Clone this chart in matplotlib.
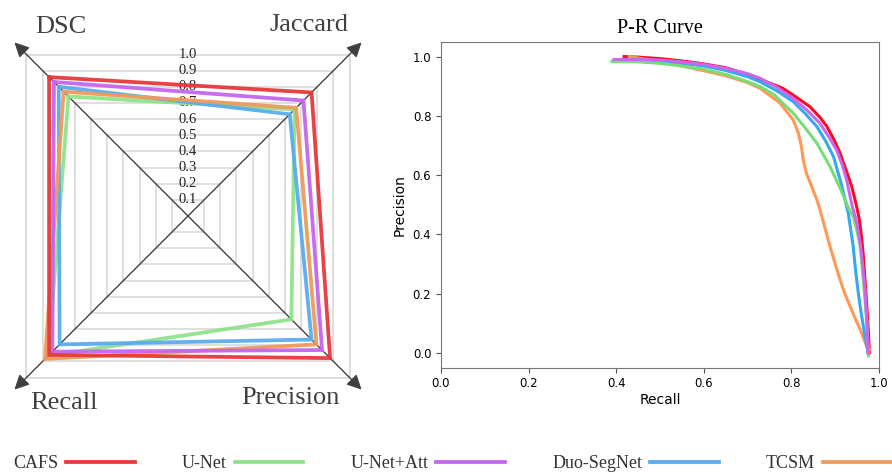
import numpy as np
import matplotlib
matplotlib.use("Agg")
import matplotlib.pyplot as plt
from matplotlib.lines import Line2D

# ---------------- data ----------------
models = ["CAFS", "U-Net", "U-Net+Att", "Duo-SegNet", "TCSM"]
radar_colors = ["#e8383c", "#8ee38a", "#c466ee", "#5aacee", "#f09a5c"]
pr_colors = ["#ff0a24", "#77dd77", "#cc66ee", "#33aaee", "#ff9955"]

metrics = ["DSC", "Jaccard", "Precision", "Recall"]
# values per model in order DSC, Jaccard, Precision, Recall
cafs_vals = [0.86, 0.765, 0.88, 0.86]
unet_vals = [0.74, 0.66, 0.64, 0.865]
unetatt_vals = [0.83, 0.715, 0.83, 0.84]
duo_vals = [0.80, 0.63, 0.765, 0.795]
tcsm_vals = [0.77, 0.67, 0.795, 0.885]
radar_values = [cafs_vals, unet_vals, unetatt_vals, duo_vals, tcsm_vals]
radar_levels = [0.1, 0.2, 0.3, 0.4, 0.5, 0.6, 0.7, 0.8, 0.9, 1.0]

# P-R curves (recall, precision)
cafs_r = [0.418, 0.45, 0.5, 0.55, 0.6, 0.65, 0.7, 0.751, 0.78, 0.804, 0.842, 0.865, 0.881, 0.897,
          0.911, 0.93, 0.938, 0.949, 0.955, 0.96, 0.964, 0.968, 0.972, 0.976, 0.978]
cafs_p = [1.0, 0.998, 0.993, 0.985, 0.975, 0.962, 0.94, 0.91, 0.893, 0.87, 0.831, 0.795, 0.764, 0.72,
          0.674, 0.595, 0.56, 0.494, 0.45, 0.393, 0.33, 0.247, 0.16, 0.067, 0.0]
unet_r = [0.39, 0.45, 0.5, 0.55, 0.6, 0.65, 0.7, 0.728, 0.76, 0.804, 0.83, 0.858, 0.888,
          0.91, 0.93, 0.941, 0.95, 0.957, 0.964, 0.968, 0.972, 0.976]
unet_p = [0.983, 0.982, 0.977, 0.968, 0.957, 0.94, 0.915, 0.899, 0.872, 0.809, 0.762, 0.708, 0.629,
          0.56, 0.49, 0.46, 0.41, 0.36, 0.25, 0.18, 0.11, -0.01]
unetatt_r = [0.395, 0.45, 0.5, 0.55, 0.6, 0.65, 0.7, 0.728, 0.766, 0.804, 0.835, 0.865, 0.885,
             0.903, 0.916, 0.926, 0.938, 0.949, 0.955, 0.96, 0.964, 0.968, 0.973, 0.975]
unetatt_p = [0.99, 0.99, 0.988, 0.982, 0.973, 0.96, 0.942, 0.927, 0.897, 0.859, 0.82, 0.775, 0.73,
             0.685, 0.635, 0.584, 0.50, 0.44, 0.39, 0.337, 0.275, 0.213, 0.079, 0.0]
duo_r = [0.395, 0.45, 0.5, 0.55, 0.6, 0.65, 0.7, 0.728, 0.766, 0.804, 0.83, 0.858, 0.878,
         0.896, 0.913, 0.922, 0.93, 0.936, 0.941, 0.945, 0.949, 0.953, 0.957, 0.962, 0.968, 0.975]
duo_p = [0.987, 0.987, 0.984, 0.977, 0.968, 0.953, 0.932, 0.915, 0.885, 0.848, 0.81, 0.764, 0.715,
         0.663, 0.575, 0.52, 0.47, 0.41, 0.36, 0.30, 0.247, 0.20, 0.157, 0.11, 0.056, 0.0]
tcsm_r = [0.43, 0.45, 0.5, 0.55, 0.6, 0.65, 0.7, 0.728, 0.774, 0.804, 0.816, 0.823, 0.827,
          0.834, 0.846, 0.858, 0.865, 0.875, 0.888, 0.9, 0.911, 0.922, 0.934, 0.946, 0.957, 0.972, 0.978]
tcsm_p = [1.0, 0.995, 0.983, 0.968, 0.952, 0.935, 0.912, 0.893, 0.843, 0.786, 0.741, 0.696, 0.651,
          0.607, 0.562, 0.517, 0.485, 0.43, 0.36, 0.30, 0.247, 0.20, 0.157, 0.115, 0.079, 0.022, 0.01]
pr_recall = [cafs_r, unet_r, unetatt_r, duo_r, tcsm_r]
pr_precision = [cafs_p, unet_p, unetatt_p, duo_p, tcsm_p]

# ---------------- figure ----------------
W, H = 892, 472
fig = plt.figure(figsize=(W / 100, H / 100), dpi=100)
serif = ["Liberation Serif", "DejaVu Serif"]

# radar axes (cartesian, diagonals as axes)
cx, cy, R, unit = 188, 216, 188, 161.5
L = R / unit
ax = fig.add_axes([(cx - R) / W, (H - cy - R) / H, 2 * R / W, 2 * R / H])
ax.set_xlim(-L, L)
ax.set_ylim(-L, L)
ax.axis("off")

dirs = {"DSC": (-1, 1), "Jaccard": (1, 1), "Precision": (1, -1), "Recall": (-1, -1)}

for lv in radar_levels:
    xs = [lv * dirs[m][0] for m in metrics] + [lv * dirs[metrics[0]][0]]
    ys = [lv * dirs[m][1] for m in metrics] + [lv * dirs[metrics[0]][1]]
    ax.plot(xs, ys, color="#d9d9d9", lw=1.2, zorder=1)
    ax.text(0, lv, f"{lv:.1f}", ha="center", va="center", fontsize=10.5,
            family=serif, color="#222222", zorder=2)

tip = 1.075
for m in metrics:
    dx, dy = dirs[m]
    ax.annotate("", xy=(tip * dx, tip * dy), xytext=(0, 0),
                arrowprops=dict(arrowstyle="-|>", color="#404040", lw=1.0,
                                mutation_scale=22, shrinkA=0, shrinkB=0),
                zorder=3)

label_pos = {"DSC": (61, 27), "Jaccard": (309, 25), "Precision": (290, 398), "Recall": (64, 403)}
for m in metrics:
    px, py = label_pos[m]
    ax.text((px - cx) / unit, (cy - py) / unit, m, ha="center", va="center",
            fontsize=19, family=serif, color="#404040")

draw_order = [1, 3, 4, 2, 0]
for i in draw_order:
    vals = radar_values[i]
    xs = [v * dirs[m][0] for v, m in zip(vals, metrics)]
    ys = [v * dirs[m][1] for v, m in zip(vals, metrics)]
    xs.append(xs[0]); ys.append(ys[0])
    ax.plot(xs, ys, color=radar_colors[i], lw=2.7, alpha=0.95, zorder=4,
            solid_joinstyle="miter")

# P-R axes
ax2 = fig.add_axes([441 / W, (H - 367.7) / H, 438 / W, 326 / H])
for i in [0, 4, 3, 1, 2]:
    ax2.plot(pr_recall[i], pr_precision[i], color=pr_colors[i], lw=2.2,
             solid_joinstyle="round")
ax2.set_xlim(0, 1)
ax2.set_ylim(-0.05, 1.05)
ax2.set_xticks([0, 0.2, 0.4, 0.6, 0.8, 1.0])
ax2.set_yticks([0, 0.2, 0.4, 0.6, 0.8, 1.0])
ax2.tick_params(labelsize=8.5, length=3.5, color="#555555")
for s in ax2.spines.values():
    s.set_color("#777777")
ax2.set_xlabel("Recall", fontsize=10, labelpad=2)
ax2.set_ylabel("Precision", fontsize=10, labelpad=4)
ax2.set_title("P-R Curve", fontsize=14.5, family=serif, pad=6)

# legend
handles = [Line2D([], [], color=c, lw=2.7) for c in radar_colors]
leg = fig.legend(handles, models, loc="center left", bbox_to_anchor=(13 / W, 8 / H),
                 ncol=5, frameon=False, markerfirst=False, borderpad=0,
                 borderaxespad=0, handlelength=3.8, handletextpad=0.45,
                 columnspacing=2.6, prop={"family": serif, "size": 13})
for t in leg.get_texts():
    t.set_color("#333333")

fig.savefig("out.png", dpi=100)
